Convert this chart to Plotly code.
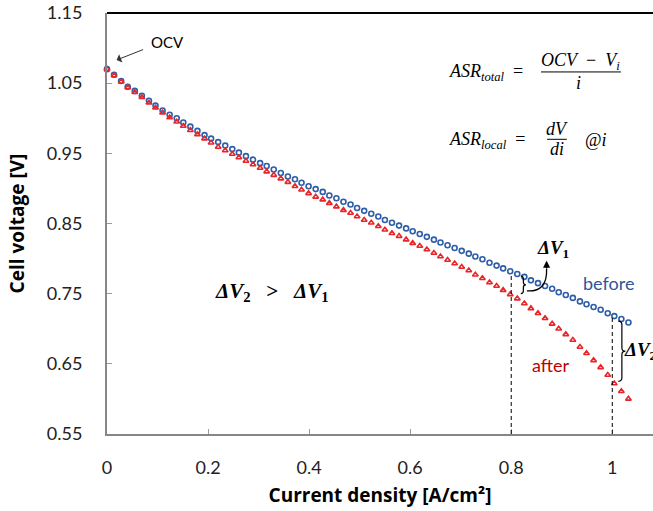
import plotly.graph_objects as go

# Current density sample points [A/cm2]
current = [
    0.000, 0.014, 0.028, 0.041, 0.055, 0.069, 0.083, 0.096, 0.110, 0.124,
    0.138, 0.151, 0.165, 0.179, 0.193, 0.206, 0.220, 0.234, 0.248, 0.261,
    0.275, 0.289, 0.303, 0.316, 0.330, 0.344, 0.358, 0.372, 0.385, 0.399,
    0.413, 0.427, 0.440, 0.454, 0.468, 0.482, 0.495, 0.509, 0.523, 0.537,
    0.550, 0.564, 0.578, 0.592, 0.605, 0.619, 0.633, 0.647, 0.660, 0.674,
    0.688, 0.702, 0.716, 0.729, 0.743, 0.757, 0.771, 0.784, 0.798, 0.812,
    0.826, 0.839, 0.853, 0.867, 0.881, 0.894, 0.908, 0.922, 0.936, 0.949,
    0.963, 0.977, 0.991, 1.004, 1.018, 1.032,
]

# Cell voltage before degradation [V]
v_before = [
    1.070, 1.062, 1.053, 1.045, 1.039, 1.032, 1.025, 1.018, 1.011, 1.005,
    1.000, 0.994, 0.988, 0.982, 0.976, 0.971, 0.966, 0.961, 0.956, 0.951,
    0.946, 0.941, 0.936, 0.932, 0.927, 0.922, 0.917, 0.913, 0.908, 0.903,
    0.899, 0.895, 0.890, 0.886, 0.881, 0.877, 0.872, 0.868, 0.864, 0.860,
    0.855, 0.851, 0.847, 0.843, 0.839, 0.835, 0.831, 0.827, 0.823, 0.819,
    0.815, 0.811, 0.807, 0.803, 0.799, 0.794, 0.790, 0.786, 0.782, 0.778,
    0.774, 0.769, 0.765, 0.761, 0.757, 0.752, 0.748, 0.744, 0.739, 0.735,
    0.731, 0.727, 0.722, 0.718, 0.714, 0.709,
]

# Cell voltage after degradation [V]
v_after = [
    1.070, 1.061, 1.052, 1.044, 1.037, 1.030, 1.022, 1.015, 1.008, 1.001,
    0.995, 0.989, 0.983, 0.977, 0.971, 0.965, 0.959, 0.954, 0.949, 0.944,
    0.939, 0.934, 0.929, 0.924, 0.919, 0.914, 0.909, 0.903, 0.898, 0.893,
    0.888, 0.884, 0.879, 0.874, 0.869, 0.865, 0.860, 0.855, 0.851, 0.846,
    0.841, 0.836, 0.832, 0.827, 0.822, 0.818, 0.813, 0.808, 0.803, 0.798,
    0.793, 0.788, 0.783, 0.777, 0.772, 0.766, 0.761, 0.755, 0.749, 0.743,
    0.736, 0.729, 0.722, 0.715, 0.707, 0.700, 0.692, 0.684, 0.674, 0.665,
    0.655, 0.645, 0.634, 0.622, 0.611, 0.600,
]

x_ticks = [0, 0.2, 0.4, 0.6, 0.8, 1.0]
x_tick_text = ["0", "0.2", "0.4", "0.6", "0.8", "1"]
y_ticks = [0.55, 0.65, 0.75, 0.85, 0.95, 1.05, 1.15]
y_tick_text = ["0.55", "0.65", "0.75", "0.85", "0.95", "1.05", "1.15"]

# Operating points marked with dashed guides: (current, top voltage)
guides = [(0.80, 0.778), (1.00, 0.717)]

BLUE = "#2f5ea8"
RED = "#e8262a"
SANS = "Lato, 'Open Sans', sans-serif"
TITLE_FONT = "'Open Sans', Lato, sans-serif"
SERIF = "'Liberation Serif', 'DejaVu Serif', serif"

fig = go.Figure()

fig.add_trace(go.Scatter(
    x=current, y=v_before, mode="markers", name="before",
    marker=dict(symbol="circle-open", size=5, color=BLUE, line=dict(width=1.6, color=BLUE)),
    cliponaxis=False,
))
fig.add_trace(go.Scatter(
    x=current, y=v_after, mode="markers", name="after",
    marker=dict(symbol="triangle-up-open", size=5, color=RED, line=dict(width=1.6, color=RED)),
    cliponaxis=False,
))

shapes = []
for gx, gy in guides:
    shapes.append(dict(type="line", xref="x", yref="y", x0=gx, x1=gx, y0=0.55, y1=gy,
                       line=dict(color="black", width=1, dash="4px,3px")))

# Top frame line
shapes.append(dict(type="line", xref="paper", yref="paper", x0=0, x1=1, y0=1, y1=1,
                   line=dict(color="black", width=2)))

# Fraction bars for the ASR formulas
shapes.append(dict(type="line", xref="x", yref="y", x0=0.859, x1=1.017, y0=1.066, y1=1.066,
                   line=dict(color="black", width=1)))
shapes.append(dict(type="line", xref="x", yref="y", x0=0.871, x1=0.910, y0=0.970, y1=0.970,
                   line=dict(color="black", width=1)))


def brace(x, y0, y1, w, h):
    """Right-facing curly brace between y0 (bottom) and y1 (top) at x."""
    ym = (y0 + y1) / 2
    return (f"M {x},{y1} Q {x + w},{y1} {x + w},{y1 - h} "
            f"L {x + w},{ym + h} Q {x + w},{ym} {x + 2 * w},{ym} "
            f"Q {x + w},{ym} {x + w},{ym - h} "
            f"L {x + w},{y0 + h} Q {x + w},{y0} {x},{y0}")


shapes.append(dict(type="path", xref="x", yref="y", path=brace(0.819, 0.750, 0.775, 0.005, 0.004),
                   line=dict(color="black", width=1.2)))
shapes.append(dict(type="path", xref="x", yref="y", path=brace(1.012, 0.625, 0.711, 0.007, 0.005),
                   line=dict(color="black", width=1.2)))

# Curved arrow from the ΔV1 brace towards its label
shapes.append(dict(type="path", xref="x", yref="y",
                   path="M 0.831,0.754 Q 0.872,0.752 0.870,0.786",
                   line=dict(color="black", width=1.3)))

annotations = [
    dict(x=0.019, y=1.083, ax=28, ay=-11, xref="x", yref="y", text="", showarrow=True,
         arrowhead=1, arrowsize=1.5, arrowwidth=1, arrowcolor="#333"),
    dict(x=0.084, y=1.109, xref="x", yref="y", text="OCV", showarrow=False, xanchor="left",
         font=dict(family=SANS, size=15, color="black")),
    dict(x=0.870, y=0.797, ax=0, ay=9, xref="x", yref="y", text="", showarrow=True,
         arrowhead=2, arrowsize=1.1, arrowwidth=1.3, arrowcolor="black"),
    # ASR formulas
    dict(x=0.673, y=1.0645, xref="x", yref="y", xanchor="left", showarrow=False,
         text="<i>ASR<sub>total</sub></i>  =", font=dict(family=SERIF, size=18, color="black")),
    dict(x=0.938, y=1.081, xref="x", yref="y", showarrow=False,
         text="<i>OCV</i>  −  <i>V<sub>i</sub></i>", font=dict(family=SERIF, size=18, color="black")),
    dict(x=0.934, y=1.050, xref="x", yref="y", showarrow=False,
         text="<i>i</i>", font=dict(family=SERIF, size=18, color="black")),
    dict(x=0.673, y=0.969, xref="x", yref="y", xanchor="left", showarrow=False,
         text="<i>ASR<sub>local</sub></i>  =", font=dict(family=SERIF, size=18, color="black")),
    dict(x=0.891, y=0.984, xref="x", yref="y", showarrow=False,
         text="<i>dV</i>", font=dict(family=SERIF, size=18, color="black")),
    dict(x=0.891, y=0.956, xref="x", yref="y", showarrow=False,
         text="<i>di</i>", font=dict(family=SERIF, size=18, color="black")),
    dict(x=0.942, y=0.969, xref="x", yref="y", xanchor="left", showarrow=False,
         text="@<i>i</i>", font=dict(family=SERIF, size=18, color="black")),
    # ΔV labels
    dict(x=0.883, y=0.813, xref="x", yref="y", showarrow=False,
         text="<b><i>ΔV</i><sub>1</sub></b>", font=dict(family=SERIF, size=19, color="black")),
    dict(x=1.020, y=0.668, xref="x", yref="y", xanchor="left", showarrow=False,
         text="<b><i>ΔV</i><sub>2</sub></b>", font=dict(family=SERIF, size=19, color="black")),
    dict(x=0.209, y=0.752, xref="x", yref="y", xanchor="left", showarrow=False,
         text="<b><i>ΔV</i><sub>2</sub>&nbsp;&nbsp;&nbsp;&gt;&nbsp;&nbsp;&nbsp;<i>ΔV</i><sub>1</sub></b>",
         font=dict(family=SERIF, size=21, color="black")),
    dict(x=0.993, y=0.765, xref="x", yref="y", showarrow=False,
         text="before", font=dict(family=SANS, size=18, color="#2f5597")),
    dict(x=0.878, y=0.649, xref="x", yref="y", showarrow=False,
         text="after", font=dict(family=SANS, size=18, color="#c00000")),
]

axis_common = dict(
    showline=True, linecolor="#868686", linewidth=2,
    showgrid=False, zeroline=False,
    ticks="inside", ticklen=5, tickwidth=1, tickcolor="#9a9a9a",
    tickfont=dict(family=SANS, size=18, color="#222"),
)

fig.update_layout(
    width=653, height=511,
    margin=dict(l=107, r=0, t=13, b=77),
    paper_bgcolor="white", plot_bgcolor="white",
    showlegend=False,
    shapes=shapes,
    annotations=annotations,
    xaxis=dict(range=[0, 1.0806], tickvals=x_ticks, ticktext=x_tick_text,
               ticklabelstandoff=16,
               title=dict(text="<b>Current density [A/cm²]</b>", standoff=12,
                          font=dict(family=TITLE_FONT, size=19, color="black")),
               **axis_common),
    yaxis=dict(range=[0.55, 1.15], tickvals=y_ticks, ticktext=y_tick_text,
               ticklabelstandoff=19,
               title=dict(text="<b>Cell voltage [V]</b>", standoff=17,
                          font=dict(family=TITLE_FONT, size=19, color="black")),
               **axis_common),
)

fig.write_html("out.html")
